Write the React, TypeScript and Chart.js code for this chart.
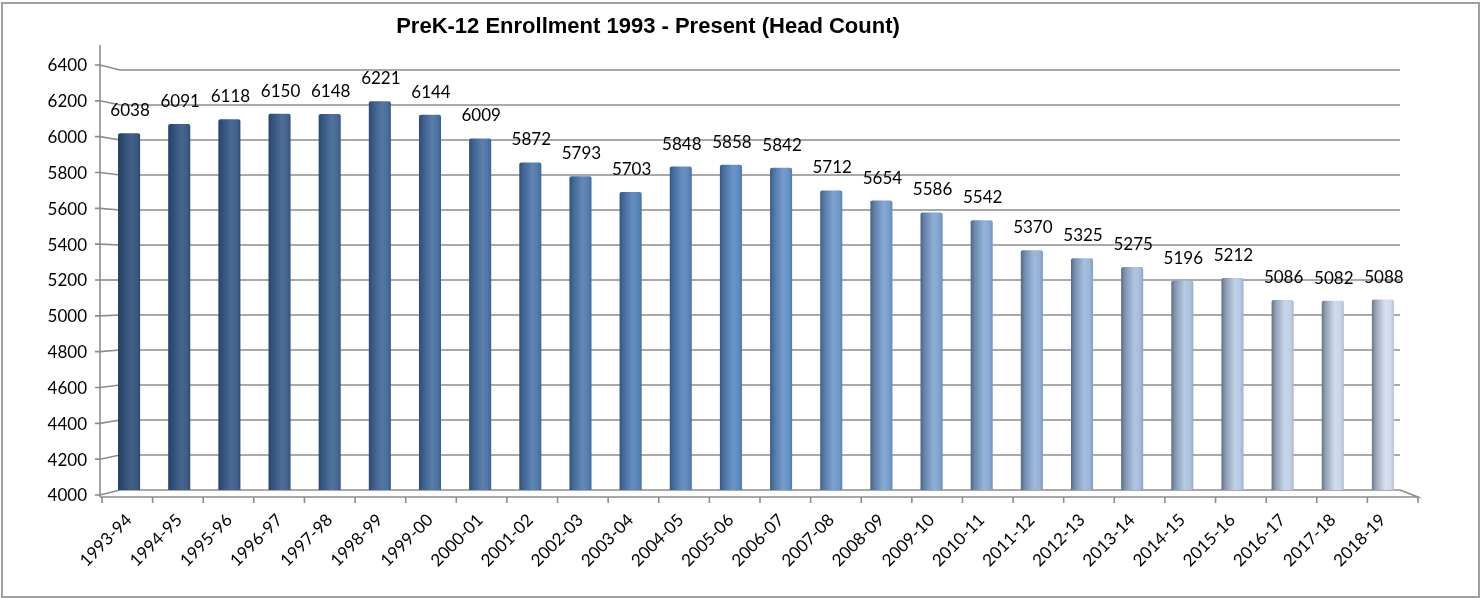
import React, { useEffect, useRef } from "react";
import { Chart, registerables } from "chart.js";

Chart.register(...registerables);

const chartTitle = "PreK-12 Enrollment 1993 - Present (Head Count)";

const schoolYears = [
  "1993-94", "1994-95", "1995-96", "1996-97", "1997-98", "1998-99", "1999-00",
  "2000-01", "2001-02", "2002-03", "2003-04", "2004-05", "2005-06", "2006-07",
  "2007-08", "2008-09", "2009-10", "2010-11", "2011-12", "2012-13", "2013-14",
  "2014-15", "2015-16", "2016-17", "2017-18", "2018-19",
];

const headCounts = [
  6038, 6091, 6118, 6150, 6148, 6221, 6144, 6009, 5872, 5793, 5703, 5848, 5858,
  5842, 5712, 5654, 5586, 5542, 5370, 5325, 5275, 5196, 5212, 5086, 5082, 5088,
];

const yTickValues = [4000, 4200, 4400, 4600, 4800, 5000, 5200, 5400, 5600, 5800, 6000, 6200, 6400];

const LABEL_FONT = "17px Lato";
const BAR_PCT = 0.44;

type RGB = [number, number, number];
const hex = (h: string): RGB => [parseInt(h.slice(1, 3), 16), parseInt(h.slice(3, 5), 16), parseInt(h.slice(5, 7), 16)];
const mix = (a: RGB, b: RGB, t: number): RGB => [a[0] + (b[0] - a[0]) * t, a[1] + (b[1] - a[1]) * t, a[2] + (b[2] - a[2]) * t];
const css = (c: RGB) => `rgb(${Math.round(c[0])},${Math.round(c[1])},${Math.round(c[2])})`;

const DARK = hex("#2a4a76");
const MID = hex("#4f81bd");
const LIGHT = hex("#cdd8ec");

function baseColor(i: number, n: number): RGB {
  const t = i / (n - 1);
  const midT = 12 / 25;
  return t <= midT ? mix(DARK, MID, t / midT) : mix(MID, LIGHT, (t - midT) / (1 - midT));
}

const excel3d = {
  id: "excel3d",
  beforeDatasetsDraw(chart: any) {
    const { ctx, chartArea: a, scales } = chart;
    const y = scales.y;
    const h = a.bottom - a.top;
    const front = (b: number) => a.top - 5 + (b - a.top) * ((h + 10) / h);
    const axisX = a.left - 4;
    const backL = a.left + 16;
    const backR = a.right - 8;
    const floorY = front(a.bottom) + 2;
    const frontR = a.right + 10;
    ctx.save();
    ctx.strokeStyle = "#8c8c8c";
    ctx.lineWidth = 1.6;
    for (const v of yTickValues) {
      const by = y.getPixelForValue(v);
      const fy = front(by);
      ctx.beginPath();
      ctx.moveTo(backL, by);
      ctx.lineTo(backR, by);
      ctx.stroke();
      ctx.beginPath();
      ctx.moveTo(axisX - 5, fy);
      ctx.lineTo(axisX, fy);
      ctx.lineTo(backL, by);
      ctx.stroke();
    }
    ctx.beginPath();
    ctx.moveTo(axisX, a.top - 25);
    ctx.lineTo(axisX, floorY);
    ctx.stroke();
    ctx.beginPath();
    ctx.moveTo(axisX, floorY);
    ctx.lineTo(frontR, floorY);
    ctx.lineTo(backR, a.bottom);
    ctx.stroke();
    const n = schoolYears.length;
    for (let i = 0; i <= n; i++) {
      const tx = axisX + 2 + ((frontR - axisX - 2) * i) / n;
      ctx.beginPath();
      ctx.moveTo(tx, floorY);
      ctx.lineTo(tx, floorY + 6);
      ctx.stroke();
    }
    ctx.fillStyle = "#000";
    ctx.font = LABEL_FONT;
    ctx.textAlign = "right";
    ctx.textBaseline = "middle";
    for (const v of yTickValues) {
      const fy = front(y.getPixelForValue(v));
      ctx.fillText(String(v), axisX - 13, fy + 1);
    }
    ctx.restore();
  },
  afterDatasetsDraw(chart: any) {
    const { ctx, scales } = chart;
    const meta = chart.getDatasetMeta(0);
    ctx.save();
    ctx.fillStyle = "#000";
    ctx.font = LABEL_FONT;
    ctx.textAlign = "center";
    ctx.textBaseline = "alphabetic";
    meta.data.forEach((el: any, i: number) => {
      const v = headCounts[i];
      ctx.fillText(String(v), el.x + 1, scales.y.getPixelForValue(v) - 17);
    });
    ctx.font = "bold 22px 'Liberation Sans', Arial, sans-serif";
    ctx.textBaseline = "alphabetic";
    ctx.fillText(chartTitle, 648, 33);
    ctx.strokeStyle = "#a0a0a0";
    ctx.lineWidth = 2;
    ctx.strokeRect(2, 3, chart.width - 5, chart.height - 4);
    ctx.restore();
  },
};

export default function App() {
  const ref = useRef<HTMLCanvasElement | null>(null);
  useEffect(() => {
    if (!ref.current) return;
    const n = schoolYears.length;
    const chart = new Chart(ref.current, {
      type: "bar",
      data: {
        labels: schoolYears,
        datasets: [
          {
            label: "Head Count",
            data: headCounts,
            barPercentage: BAR_PCT,
            categoryPercentage: 1,
            borderWidth: 0,
            borderRadius: 2,
            borderSkipped: "bottom",
            backgroundColor: (c: any) => {
              const i = c.dataIndex;
              if (i == null) return css(MID);
              const base = baseColor(i, n);
              const chart = c.chart;
              const xs = chart.scales && chart.scales.x;
              if (!xs || !chart.chartArea) return css(base);
              const cx = xs.getPixelForValue(i);
              const w = ((xs.right - xs.left) / n) * BAR_PCT;
              const g = chart.ctx.createLinearGradient(cx - w / 2, 0, cx + w / 2, 0);
              const t = i / (n - 1);
              g.addColorStop(0, css(mix(base, hex("#1c2530"), 0.35 + 0.2 * t)));
              g.addColorStop(0.18, css(mix(base, hex("#303a48"), 0.12 + 0.2 * t)));
              g.addColorStop(0.6, css(mix(base, hex("#ffffff"), 0.12 + 0.1 * t)));
              g.addColorStop(0.85, css(mix(base, hex("#ffffff"), 0.08)));
              g.addColorStop(1, css(mix(base, hex("#303a48"), 0.15)));
              return g;
            },
          },
        ],
      },
      options: {
        animation: false,
        responsive: false,
        maintainAspectRatio: false,
        layout: { padding: { left: 104, right: 74, top: 70, bottom: 0 } },
        plugins: {
          legend: { display: false },
          title: { display: false },
          tooltip: { enabled: false },
        },
        scales: {
          x: {
            grid: { display: false, drawTicks: false },
            border: { display: false },
            ticks: {
              color: "#000",
              font: { family: "Lato", size: 17 },
              maxRotation: 45,
              minRotation: 45,
              autoSkip: false,
              padding: 20,
            },
            afterFit: (s: any) => {
              s.height = 108;
            },
          },
          y: {
            display: false,
            min: 4000,
            max: 6400,
            ticks: { stepSize: 200 },
          },
        },
      },
      plugins: [excel3d],
    });
    return () => chart.destroy();
  }, []);
  return (
    <div style={{ position: "fixed", left: 0, top: 0, width: 1482, height: 598, background: "#fff" }}>
      <canvas ref={ref} width={1482} height={598} style={{ display: "block" }} />
    </div>
  );
}
